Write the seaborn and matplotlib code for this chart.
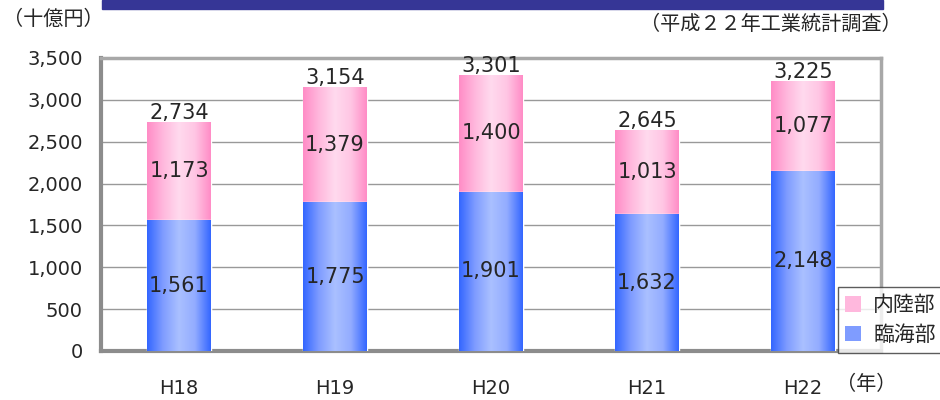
import numpy as np
import pandas as pd
import matplotlib
matplotlib.use("Agg")
import matplotlib.pyplot as plt
import seaborn as sns
from matplotlib.colors import LinearSegmentedColormap
from matplotlib.patches import Patch

years = ["H18", "H19", "H20", "H21", "H22"]
rinkai = [1561, 1775, 1901, 1632, 2148]   # 臨海部
nairiku = [1173, 1379, 1400, 1013, 1077]  # 内陸部
totals = [2734, 3154, 3301, 2645, 3225]

sns.set_style("white")
plt.rcParams["font.family"] = ["Noto Sans CJK JP", "DejaVu Sans"]
num_font = ["DejaVu Sans"]

df = pd.DataFrame({"year": years, "rinkai": rinkai, "nairiku": nairiku, "total": totals})

fig = plt.figure(figsize=(9.4, 4.0), dpi=100)
ax = fig.add_axes([101 / 940, 49 / 400, 780 / 940, 293 / 400])

# pink (total) first, blue on top of it
sns.barplot(data=df, x="year", y="total", color="#FF99CC", width=0.405,
            ax=ax, zorder=2, saturation=1)
sns.barplot(data=df, x="year", y="rinkai", color="#3366FF", width=0.405,
            ax=ax, zorder=3, saturation=1)

pink_cmap = LinearSegmentedColormap.from_list(
    "pink", ["#FF8CC6", "#FFB8DD", "#FFDAEE", "#FFC6E4", "#FF8CC6"])
blue_cmap = LinearSegmentedColormap.from_list(
    "blue", ["#3366FF", "#7F9CFF", "#AAC0FF", "#93ACFF", "#3366FF"])
grad = np.linspace(0, 1, 256).reshape(1, -1)

n = len(years)
for i, p in enumerate(ax.patches):
    cmap = pink_cmap if i < n else blue_cmap
    x0, y0 = p.get_x(), p.get_y()
    w, h = p.get_width(), p.get_height()
    im = ax.imshow(grad, cmap=cmap, extent=[x0, x0 + w, y0, y0 + h],
                   aspect="auto", zorder=p.get_zorder() + 0.1)
    im.set_clip_path(p)

ax.set_xlim(-0.5, n - 0.5)
ax.set_ylim(0, 3500)
ax.set_yticks(range(0, 3501, 500))
ax.set_yticklabels([f"{v:,}" for v in range(0, 3501, 500)], fontsize=14,
                   family=num_font)
ax.set_xticks(range(n))
ax.set_xticklabels(years, fontsize=14, family=num_font)
ax.tick_params(axis="x", pad=20, length=0)
ax.tick_params(axis="y", pad=13, length=0)
ax.set_xlabel("")
ax.set_ylabel("")
ax.yaxis.grid(True, color="#999999", linewidth=1)
ax.set_axisbelow(True)

for side in ["top", "right"]:
    ax.spines[side].set_color("#A8A8A8")
    ax.spines[side].set_linewidth(2.5)
for side in ["left", "bottom"]:
    ax.spines[side].set_color("#8C8C8C")
    ax.spines[side].set_linewidth(3)

for i in range(n):
    ax.text(i, rinkai[i] / 2, f"{rinkai[i]:,}", ha="center", va="center",
            fontsize=15, family=num_font, zorder=6)
    ax.text(i, rinkai[i] + nairiku[i] / 2, f"{nairiku[i]:,}", ha="center",
            va="center", fontsize=15, family=num_font, zorder=6)
    ax.text(i, totals[i] - 15, f"{totals[i]:,}", ha="center", va="bottom",
            fontsize=15, family=num_font, zorder=6)

# legend
handles = [Patch(facecolor="#FFB8DD", edgecolor="none", label="内陸部"),
           Patch(facecolor="#7F9CFF", edgecolor="none", label="臨海部")]
leg = fig.legend(handles=handles, loc="upper left",
                 bbox_to_anchor=(838 / 940, 1 - 287 / 400), fontsize=15,
                 frameon=True, fancybox=False, handlelength=0.75,
                 handleheight=0.75, handletextpad=0.6, borderpad=0.35,
                 labelspacing=0.35, borderaxespad=0)
leg.get_frame().set_edgecolor("#333333")
leg.get_frame().set_linewidth(1)

# header band and annotations
fig.patches.append(plt.Rectangle((102 / 940, 1 - 9 / 400), 781 / 940, 9 / 400,
                                 transform=fig.transFigure, color="#363696"))
fig.text(3 / 940, 1 - 19 / 400, "（十億円）", fontsize=14.5, va="center", ha="left")
fig.text(902 / 940, 1 - 24 / 400, "（平成２２年工業統計調査）", fontsize=14.5,
         va="center", ha="right")
fig.text(836 / 940, 1 - 385 / 400, "（年）", fontsize=14.5, va="center", ha="left")

fig.savefig("out.png", dpi=100)
